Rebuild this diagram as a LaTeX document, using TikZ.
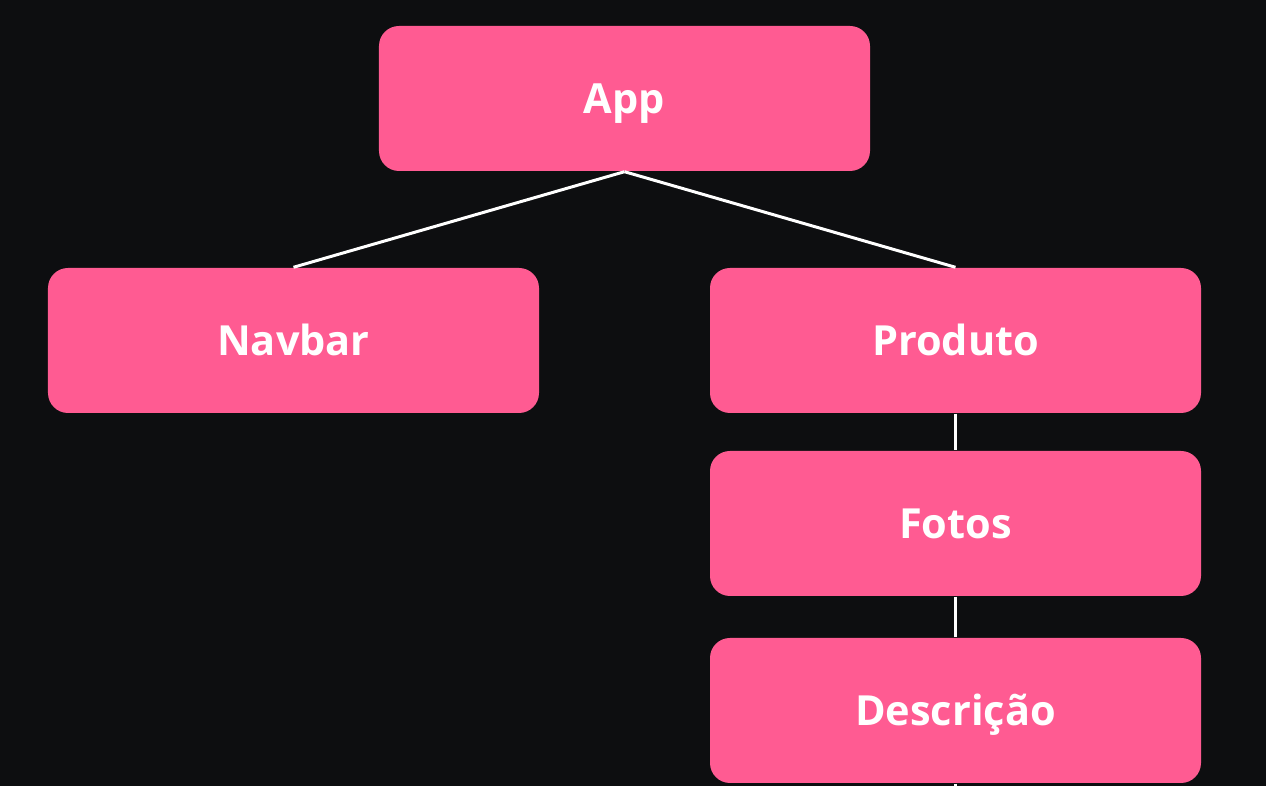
\documentclass[tikz,border=0pt]{standalone}
\usepackage{fontspec}
\setmainfont{Open Sans}
\definecolor{fond}{HTML}{0D0E10}
\definecolor{rose}{HTML}{FF5B92}
\tikzset{
    comp/.style={fill=rose, rounded corners=0.2cm, minimum width=4.91cm,
        minimum height=1.45cm, inner sep=0pt, text=white,
        text height=8.4pt, text depth=0pt,
        font=\fontsize{11.8}{14}\selectfont\bfseries},
    lien/.style={white, line width=0.85pt}
}

\begin{document}
\begin{tikzpicture}
    % --- Fond ---
    \fill[fond] (0,0) rectangle (12.66,-7.86);
    \useasboundingbox (0,0) rectangle (12.66,-7.86);

    % --- Composants ---
    \node[comp] (app) at (6.245,-0.985) {App};
    \node[comp] (navbar) at (2.935,-3.405) {Navbar};
    \node[comp] (produto) at (9.555,-3.405) {Produto};
    \node[comp] (fotos) at (9.555,-5.235) {Fotos};
    \node[comp] (descricao) at (9.555,-7.105) {Descrição};
    \coordinate (fim) at (9.555,-7.86);

    % --- Liens ---
    \draw[lien] (app.south) -- (navbar.north);
    \draw[lien] (app.south) -- (produto.north);
    \draw[lien] (produto.south) -- (fotos.north);
    \draw[lien] (fotos.south) -- (descricao.north);
    \draw[lien] (descricao.south) -- (fim);
\end{tikzpicture}
\end{document}
